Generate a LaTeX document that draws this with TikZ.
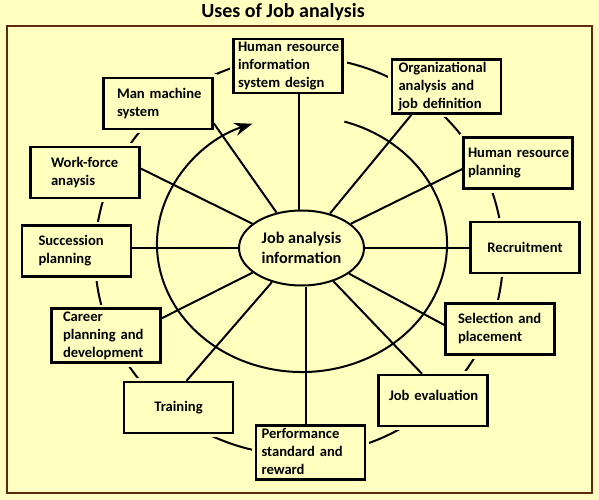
\documentclass[tikz,border=0pt]{standalone}
\usepackage{fontspec}
\setmainfont{Carlito}
\usetikzlibrary{shapes.geometric,arrows.meta}
\definecolor{bg}{RGB}{255,255,192}
\definecolor{framecol}{RGB}{96,40,12}
\newcommand\boxfont{\fontsize{14.6}{18}\selectfont\bfseries}
\newcommand\midfont{\fontsize{16.2}{19.5}\selectfont\bfseries}
\newcommand\titlefont{\fontsize{20}{24}\selectfont\bfseries}
\newcommand\tlines[1]{\begin{tabular}{@{}l@{}}#1\end{tabular}}
\tikzset{
  usebox/.style={draw, line width=2.4pt, fill=bg, minimum width=109pt, minimum height=51pt,
    align=left, font=\boxfont, inner ysep=0pt,
    preaction={draw=bg, line width=8pt}},
  ind/.code={\pgfmathsetmacro\tw{109-2*#1}\edef\next{\noexpand\pgfkeysalso{inner xsep=#1pt,text width=\tw pt}}\next},
  spoke/.style={line width=2pt, black},
  ring/.style={line width=2pt, black},
}
\begin{document}
\begin{tikzpicture}[x=1pt,y=-1pt]
\fill[bg] (0,0) rectangle (599,500);
\useasboundingbox (0,0) rectangle (599,500);
\node[font=\titlefont, anchor=base] (title) at (283,18) {Uses of Job analysis};
\draw[framecol, line width=2.6pt] (7,26) rectangle (592,493);
% outer ring
\draw[ring] (299,256) ellipse [x radius=204, y radius=199];
% inner arrow arc
\draw[ring, -{Stealth[length=18pt,width=13pt]}] (302,244) ++(-73:145 and 128) arc[start angle=-73, end angle=250, x radius=145, y radius=128];
% boxes
\node[usebox, ind=4.5] (hr) at (288,66) {\tlines{Human resource\\information\\system design}};
\node[usebox, ind=6.5] (org) at (446.5,86.5) {\tlines{Organizational\\analysis and\\job definition}};
\node[usebox, ind=4.5] (hrp) at (518,163) {\tlines{Human resource\\planning}};
\node[usebox, align=center] (rec) at (525,247.5) {Recruitment};
\node[usebox, ind=12.5] (sel) at (500,329) {\tlines{Selection and\\placement}};
\node[usebox, ind=10.5] (je) at (433,400.5) {\tlines{Job evaluation\\[7pt]}};
\node[usebox, ind=5.5] (perf) at (310.5,452.5) {\tlines{Performance\\standard and\\reward}};
\node[usebox, align=center] (tr) at (178.5,407.5) {Training};
\node[usebox, ind=11.5] (car) at (106,335.5) {\tlines{Career\\planning and\\development}};
\node[usebox, ind=16.5] (succ) at (76.5,251) {\tlines{Succession\\planning}};
\node[usebox, ind=20.5] (wf) at (85,172.5) {\tlines{Work-force\\anaysis}};
\node[usebox, ind=13.5] (mm) at (158,103.5) {\tlines{Man machine\\system}};
% centre
\node[ellipse, draw, line width=2pt, fill=bg, minimum width=125pt, minimum height=75pt, inner sep=0pt, align=center, font=\midfont] (ja) at (301.5,248) {Job analysis\\information};
% spokes
\draw[spoke] ([xshift=11pt]hr.south) -- ([xshift=11pt]hr.south |- ja.north);
\draw[spoke] (ja) -- ([xshift=-35pt]org.south);
\draw[spoke] (ja) -- ([yshift=-6pt]hrp.west);
\draw[spoke] (ja.east) -- (ja.east -| rec.west);
\draw[spoke] (ja) -- ([yshift=4pt]sel.west);
\draw[spoke] (ja) -- ([xshift=-11pt]je.north);
\draw[spoke] ([xshift=-5pt]perf.north) -- ([xshift=-5pt]perf.north |- ja.south);
\draw[spoke] (ja) -- ([xshift=8pt]tr.north);
\draw[spoke] (ja) -- ([yshift=-11pt]car.north east);
\draw[spoke] (ja.west) -- (ja.west -| succ.east);
\draw[spoke] (ja) -- ([yshift=4pt]wf.east);
\draw[spoke] (ja) -- ([yshift=7pt]mm.south east);
\end{tikzpicture}
\end{document}
